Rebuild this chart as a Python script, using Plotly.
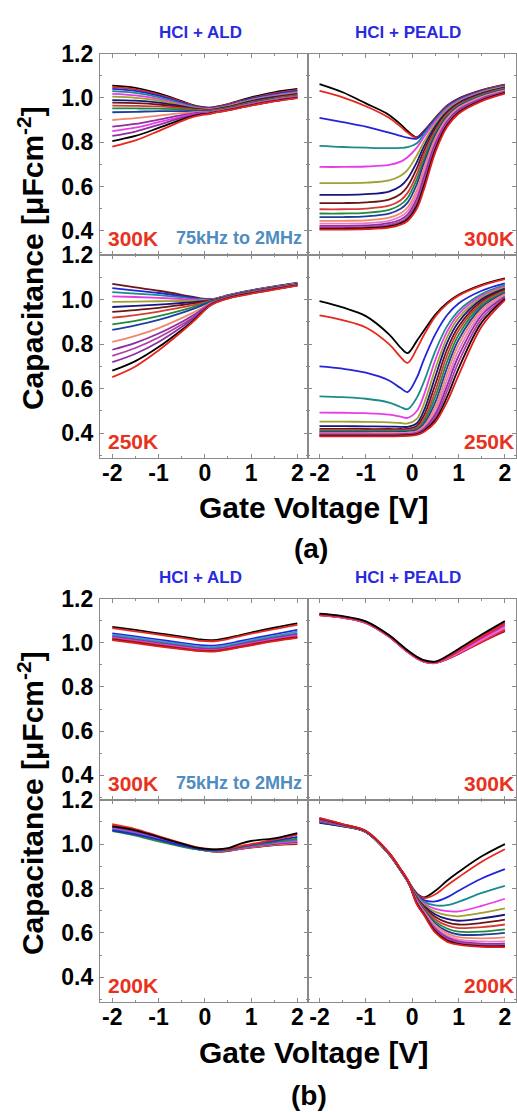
import plotly.graph_objects as go

FONT = "Liberation Sans, Arial, sans-serif"
W, H = 517, 1112

# Gate voltage sample points (V)
VG = [-2, -1.5, -1, -0.5, -0.25, -0.1, 0.1, 0.25, 0.5, 0.75, 1, 1.5, 2]

PAL = ["#000000", "#e8281e", "#2424d8", "#1a8c8c", "#e83ce8", "#a0a030", "#16167e", "#6a1616",
       "#d83a3a", "#1e8c3a", "#1e3ea0", "#f0886a", "#e87ac8", "#8e2ea0", "#b040a8", "#200808", "#e01e1e"]
ALD300_COL = ["#000000", "#e8281e", "#2424d8", "#1a8c8c", "#e83ce8", "#a0a030", "#16167e", "#6a1616",
              "#d83a3a", "#1e8c3a", "#1e3ea0", "#f0886a", "#8e2ea0", "#e83ce8", "#8e2ea0", "#000000", "#e8281e"]
ALD250_COL = ["#6a1616", "#2424d8", "#1a8c8c", "#e83ce8", "#a0a030", "#16167e", "#6a1616", "#d83a3a",
              "#1e8c3a", "#1e3ea0", "#f0886a", "#8e2ea0", "#b040a8", "#8e2ea0", "#000000", "#e8281e"]

# (a) 300K, HCl + ALD
A300_ALD = [
    [1.055, 1.045, 1.020, 0.985, 0.967, 0.960, 0.956, 0.960, 0.972, 0.988, 1.002, 1.025, 1.040],
    [1.048, 1.038, 1.015, 0.982, 0.965, 0.958, 0.955, 0.958, 0.970, 0.985, 0.998, 1.020, 1.036],
    [1.040, 1.031, 1.010, 0.978, 0.962, 0.956, 0.953, 0.956, 0.967, 0.982, 0.995, 1.016, 1.031],
    [1.030, 1.022, 1.003, 0.974, 0.960, 0.954, 0.951, 0.954, 0.965, 0.979, 0.992, 1.012, 1.027],
    [1.018, 1.011, 0.995, 0.970, 0.957, 0.952, 0.950, 0.953, 0.963, 0.977, 0.990, 1.010, 1.024],
    [1.005, 1.000, 0.988, 0.966, 0.955, 0.950, 0.948, 0.951, 0.961, 0.975, 0.988, 1.007, 1.021],
    [0.990, 0.987, 0.978, 0.962, 0.952, 0.948, 0.946, 0.949, 0.959, 0.972, 0.985, 1.004, 1.018],
    [0.978, 0.976, 0.970, 0.958, 0.950, 0.947, 0.945, 0.948, 0.957, 0.970, 0.982, 1.001, 1.015],
    [0.965, 0.964, 0.961, 0.953, 0.947, 0.945, 0.943, 0.946, 0.955, 0.967, 0.979, 0.998, 1.012],
    [0.952, 0.952, 0.951, 0.947, 0.944, 0.942, 0.941, 0.944, 0.953, 0.965, 0.977, 0.996, 1.010],
    [0.935, 0.937, 0.940, 0.940, 0.940, 0.940, 0.939, 0.942, 0.951, 0.963, 0.975, 0.994, 1.008],
    [0.900, 0.908, 0.920, 0.931, 0.935, 0.937, 0.937, 0.941, 0.949, 0.961, 0.973, 0.992, 1.006],
    [0.870, 0.882, 0.902, 0.922, 0.930, 0.933, 0.935, 0.939, 0.947, 0.959, 0.971, 0.990, 1.004],
    [0.850, 0.865, 0.890, 0.915, 0.926, 0.930, 0.933, 0.938, 0.946, 0.957, 0.969, 0.988, 1.002],
    [0.828, 0.848, 0.878, 0.909, 0.922, 0.927, 0.931, 0.937, 0.945, 0.956, 0.967, 0.986, 1.001],
    [0.805, 0.828, 0.864, 0.902, 0.918, 0.924, 0.929, 0.935, 0.944, 0.955, 0.966, 0.985, 1.000],
    [0.780, 0.808, 0.850, 0.895, 0.914, 0.921, 0.927, 0.934, 0.943, 0.954, 0.965, 0.984, 0.999],
]

# (a) 300K, HCl + PEALD
A300_PEALD = [
    [1.062, 1.025, 0.975, 0.923, 0.880, 0.850, 0.822, 0.850, 0.910, 0.965, 0.997, 1.035, 1.060],
    [1.031, 1.002, 0.962, 0.910, 0.870, 0.843, 0.820, 0.848, 0.908, 0.963, 0.995, 1.033, 1.058],
    [0.910, 0.890, 0.870, 0.843, 0.828, 0.820, 0.816, 0.845, 0.905, 0.960, 0.992, 1.030, 1.055],
    [0.783, 0.778, 0.775, 0.773, 0.774, 0.777, 0.795, 0.835, 0.900, 0.955, 0.989, 1.028, 1.053],
    [0.688, 0.688, 0.690, 0.697, 0.712, 0.732, 0.775, 0.822, 0.893, 0.950, 0.986, 1.026, 1.051],
    [0.615, 0.615, 0.617, 0.627, 0.648, 0.675, 0.740, 0.800, 0.882, 0.943, 0.981, 1.023, 1.049],
    [0.562, 0.562, 0.565, 0.577, 0.602, 0.635, 0.710, 0.780, 0.872, 0.937, 0.977, 1.020, 1.047],
    [0.525, 0.525, 0.528, 0.541, 0.566, 0.600, 0.682, 0.760, 0.861, 0.931, 0.973, 1.017, 1.045],
    [0.497, 0.497, 0.500, 0.513, 0.538, 0.571, 0.655, 0.740, 0.850, 0.925, 0.969, 1.014, 1.043],
    [0.478, 0.478, 0.481, 0.494, 0.518, 0.548, 0.632, 0.720, 0.840, 0.919, 0.965, 1.011, 1.040],
    [0.462, 0.462, 0.465, 0.477, 0.499, 0.527, 0.610, 0.702, 0.830, 0.913, 0.961, 1.008, 1.037],
    [0.445, 0.445, 0.447, 0.459, 0.479, 0.505, 0.585, 0.680, 0.818, 0.906, 0.956, 1.005, 1.034],
    [0.432, 0.432, 0.434, 0.445, 0.464, 0.488, 0.565, 0.660, 0.806, 0.899, 0.951, 1.001, 1.031],
    [0.422, 0.422, 0.424, 0.434, 0.451, 0.473, 0.545, 0.640, 0.794, 0.892, 0.946, 0.997, 1.028],
    [0.415, 0.415, 0.417, 0.426, 0.441, 0.461, 0.528, 0.620, 0.781, 0.884, 0.940, 0.993, 1.025],
    [0.410, 0.410, 0.412, 0.420, 0.434, 0.452, 0.513, 0.602, 0.768, 0.876, 0.934, 0.989, 1.022],
    [0.405, 0.405, 0.407, 0.414, 0.427, 0.444, 0.500, 0.585, 0.755, 0.868, 0.928, 0.985, 1.019],
]

# (a) 250K, HCl + ALD
A250_ALD = [
    [1.071, 1.055, 1.040, 1.022, 1.012, 1.006, 1.002, 1.006, 1.020, 1.032, 1.042, 1.060, 1.075],
    [1.052, 1.041, 1.030, 1.016, 1.008, 1.004, 1.001, 1.005, 1.019, 1.031, 1.041, 1.059, 1.074],
    [1.034, 1.027, 1.020, 1.010, 1.004, 1.002, 1.000, 1.004, 1.018, 1.030, 1.040, 1.058, 1.073],
    [1.015, 1.012, 1.008, 1.003, 1.000, 0.999, 0.999, 1.003, 1.017, 1.029, 1.039, 1.057, 1.072],
    [0.990, 0.991, 0.993, 0.994, 0.995, 0.996, 0.998, 1.002, 1.016, 1.028, 1.038, 1.056, 1.071],
    [0.967, 0.972, 0.978, 0.985, 0.989, 0.992, 0.997, 1.001, 1.015, 1.027, 1.037, 1.055, 1.070],
    [0.945, 0.953, 0.963, 0.976, 0.983, 0.988, 0.995, 1.000, 1.014, 1.026, 1.036, 1.054, 1.069],
    [0.919, 0.931, 0.946, 0.965, 0.976, 0.983, 0.993, 0.999, 1.013, 1.025, 1.035, 1.053, 1.068],
    [0.889, 0.905, 0.926, 0.952, 0.967, 0.977, 0.990, 0.998, 1.012, 1.024, 1.034, 1.052, 1.067],
    [0.864, 0.884, 0.909, 0.941, 0.959, 0.971, 0.988, 0.997, 1.011, 1.023, 1.033, 1.051, 1.066],
    [0.810, 0.837, 0.872, 0.917, 0.942, 0.958, 0.982, 0.994, 1.010, 1.022, 1.032, 1.050, 1.066],
    [0.775, 0.806, 0.848, 0.900, 0.930, 0.950, 0.978, 0.992, 1.009, 1.021, 1.031, 1.049, 1.065],
    [0.748, 0.783, 0.830, 0.888, 0.921, 0.943, 0.975, 0.991, 1.008, 1.020, 1.030, 1.048, 1.065],
    [0.719, 0.757, 0.810, 0.877, 0.915, 0.940, 0.974, 0.990, 1.007, 1.019, 1.029, 1.047, 1.064],
    [0.681, 0.724, 0.787, 0.864, 0.906, 0.935, 0.972, 0.989, 1.006, 1.018, 1.028, 1.046, 1.064],
    [0.652, 0.700, 0.772, 0.856, 0.901, 0.932, 0.971, 0.988, 1.005, 1.017, 1.027, 1.045, 1.063],
]

# (a) 250K, HCl + PEALD
A250_PEALD = [
    [0.993, 0.965, 0.926, 0.844, 0.785, 0.760, 0.815, 0.860, 0.933, 0.985, 1.022, 1.067, 1.096],
    [0.929, 0.908, 0.875, 0.800, 0.742, 0.716, 0.780, 0.840, 0.925, 0.980, 1.018, 1.063, 1.092],
    [0.700, 0.690, 0.672, 0.637, 0.603, 0.585, 0.650, 0.730, 0.845, 0.930, 0.983, 1.040, 1.073],
    [0.566, 0.562, 0.555, 0.538, 0.518, 0.508, 0.560, 0.630, 0.770, 0.880, 0.950, 1.025, 1.065],
    [0.493, 0.492, 0.490, 0.484, 0.475, 0.469, 0.500, 0.570, 0.730, 0.855, 0.935, 1.018, 1.060],
    [0.452, 0.452, 0.451, 0.449, 0.446, 0.444, 0.465, 0.530, 0.690, 0.830, 0.918, 1.010, 1.055],
    [0.432, 0.432, 0.431, 0.430, 0.429, 0.429, 0.445, 0.500, 0.655, 0.805, 0.900, 1.002, 1.050],
    [0.420, 0.420, 0.419, 0.419, 0.419, 0.420, 0.433, 0.478, 0.620, 0.775, 0.880, 0.993, 1.045],
    [0.414, 0.414, 0.413, 0.413, 0.413, 0.414, 0.425, 0.462, 0.590, 0.748, 0.862, 0.985, 1.040],
    [0.410, 0.410, 0.410, 0.410, 0.410, 0.411, 0.419, 0.450, 0.565, 0.720, 0.842, 0.976, 1.035],
    [0.405, 0.405, 0.405, 0.405, 0.406, 0.407, 0.414, 0.440, 0.540, 0.692, 0.820, 0.966, 1.030],
    [0.401, 0.401, 0.401, 0.402, 0.402, 0.403, 0.409, 0.432, 0.518, 0.665, 0.797, 0.955, 1.025],
    [0.398, 0.398, 0.398, 0.398, 0.399, 0.400, 0.405, 0.425, 0.500, 0.638, 0.772, 0.943, 1.019],
    [0.395, 0.395, 0.395, 0.395, 0.396, 0.397, 0.402, 0.419, 0.485, 0.612, 0.747, 0.930, 1.013],
    [0.392, 0.392, 0.392, 0.392, 0.393, 0.394, 0.399, 0.414, 0.472, 0.588, 0.720, 0.915, 1.008],
    [0.389, 0.389, 0.389, 0.389, 0.390, 0.391, 0.396, 0.410, 0.460, 0.562, 0.690, 0.898, 1.003],
    [0.386, 0.386, 0.386, 0.386, 0.387, 0.388, 0.393, 0.406, 0.450, 0.540, 0.660, 0.880, 0.998],
]

# (b) 300K, HCl + ALD
B300_ALD = [
    [1.072, 1.058, 1.043, 1.028, 1.020, 1.015, 1.012, 1.013, 1.022, 1.034, 1.046, 1.068, 1.088],
    [1.066, 1.052, 1.037, 1.022, 1.014, 1.009, 1.007, 1.008, 1.017, 1.029, 1.041, 1.062, 1.081],
    [1.043, 1.029, 1.014, 1.000, 0.993, 0.989, 0.987, 0.988, 0.996, 1.007, 1.018, 1.038, 1.058],
    [1.037, 1.023, 1.008, 0.994, 0.987, 0.983, 0.981, 0.982, 0.990, 1.001, 1.012, 1.031, 1.050],
    [1.031, 1.017, 1.002, 0.988, 0.981, 0.977, 0.975, 0.976, 0.984, 0.995, 1.006, 1.025, 1.043],
    [1.027, 1.013, 0.998, 0.984, 0.977, 0.973, 0.971, 0.972, 0.980, 0.991, 1.002, 1.020, 1.038],
    [1.023, 1.009, 0.994, 0.980, 0.973, 0.969, 0.967, 0.968, 0.976, 0.987, 0.997, 1.016, 1.033],
    [1.019, 1.005, 0.990, 0.976, 0.969, 0.966, 0.964, 0.965, 0.973, 0.983, 0.993, 1.012, 1.028],
    [1.016, 1.002, 0.987, 0.974, 0.967, 0.964, 0.962, 0.963, 0.971, 0.981, 0.991, 1.010, 1.025],
    [1.012, 0.998, 0.984, 0.971, 0.965, 0.962, 0.960, 0.961, 0.969, 0.979, 0.988, 1.007, 1.022],
]
B300_ALD_COL = ["#000000", "#e8281e", "#2424d8", "#4a90d8", "#1a8c8c", "#8e2ea0", "#e83ce8",
                "#d83a3a", "#6a1616", "#e01e1e"]

# (b) 300K, HCl + PEALD
B300_PEALD = [
    [1.125, 1.114, 1.090, 1.028, 0.985, 0.959, 0.930, 0.915, 0.909, 0.926, 0.950, 1.005, 1.053],
    [1.124, 1.113, 1.089, 1.027, 0.984, 0.958, 0.929, 0.914, 0.908, 0.925, 0.949, 1.003, 1.056],
    [1.125, 1.114, 1.090, 1.028, 0.985, 0.959, 0.930, 0.915, 0.909, 0.927, 0.952, 1.008, 1.062],
    [1.126, 1.115, 1.091, 1.029, 0.986, 0.960, 0.931, 0.916, 0.910, 0.929, 0.955, 1.013, 1.069],
    [1.127, 1.116, 1.092, 1.030, 0.987, 0.961, 0.932, 0.917, 0.911, 0.931, 0.958, 1.018, 1.076],
    [1.128, 1.117, 1.093, 1.031, 0.988, 0.962, 0.933, 0.918, 0.912, 0.933, 0.962, 1.024, 1.083],
    [1.130, 1.119, 1.095, 1.033, 0.990, 0.964, 0.935, 0.919, 0.913, 0.936, 0.966, 1.030, 1.090],
    [1.132, 1.121, 1.097, 1.035, 0.992, 0.966, 0.937, 0.921, 0.915, 0.940, 0.972, 1.037, 1.098],
]
B300_PEALD_COL = ["#200808", "#e01e1e", "#e0307a", "#e87ac8", "#e83ce8", "#c02060", "#e8281e", "#000000"]

# (b) 200K, HCl + ALD
B200_ALD = [
    [1.085, 1.063, 1.032, 0.999, 0.984, 0.976, 0.969, 0.966, 0.969, 0.977, 0.984, 0.995, 1.000],
    [1.078, 1.056, 1.028, 0.997, 0.982, 0.975, 0.968, 0.966, 0.970, 0.978, 0.985, 0.996, 1.003],
    [1.082, 1.060, 1.030, 0.998, 0.983, 0.976, 0.970, 0.968, 0.972, 0.979, 0.986, 0.998, 1.006],
    [1.075, 1.054, 1.026, 0.996, 0.982, 0.975, 0.969, 0.968, 0.972, 0.980, 0.988, 1.000, 1.010],
    [1.070, 1.050, 1.023, 0.994, 0.981, 0.975, 0.970, 0.969, 0.974, 0.982, 0.990, 1.004, 1.015],
    [1.066, 1.046, 1.020, 0.992, 0.980, 0.975, 0.971, 0.970, 0.975, 0.984, 0.993, 1.008, 1.020],
    [1.058, 1.038, 1.012, 0.989, 0.979, 0.974, 0.971, 0.971, 0.976, 0.985, 0.995, 1.010, 1.025],
    [1.062, 1.044, 1.020, 0.994, 0.983, 0.978, 0.974, 0.973, 0.978, 0.988, 0.998, 1.015, 1.033],
    [1.090, 1.068, 1.036, 1.004, 0.990, 0.983, 0.978, 0.976, 0.979, 0.990, 1.000, 1.020, 1.043],
    [1.080, 1.062, 1.032, 1.002, 0.988, 0.982, 0.977, 0.976, 0.982, 1.000, 1.014, 1.026, 1.050],
]
B200_ALD_COL = ["#e01e1e", "#6a1616", "#f0886a", "#8e2ea0", "#e83ce8", "#1a8c8c", "#1e8c3a",
                "#2424d8", "#e8281e", "#000000"]

# (b) 200K, HCl + PEALD
B200_PEALD = [
    [1.115, 1.088, 1.058, 0.958, 0.885, 0.838, 0.778, 0.760, 0.790, 0.835, 0.874, 0.945, 1.000],
    [1.110, 1.086, 1.057, 0.957, 0.884, 0.837, 0.776, 0.757, 0.774, 0.814, 0.851, 0.921, 0.977],
    [1.106, 1.084, 1.056, 0.956, 0.883, 0.836, 0.772, 0.748, 0.742, 0.760, 0.790, 0.845, 0.887],
    [1.100, 1.082, 1.055, 0.955, 0.882, 0.835, 0.768, 0.740, 0.724, 0.725, 0.740, 0.780, 0.812],
    [1.098, 1.081, 1.055, 0.955, 0.881, 0.834, 0.765, 0.733, 0.708, 0.698, 0.697, 0.722, 0.754],
    [1.097, 1.080, 1.054, 0.954, 0.880, 0.833, 0.762, 0.727, 0.695, 0.680, 0.675, 0.690, 0.711],
    [1.096, 1.080, 1.054, 0.954, 0.880, 0.832, 0.759, 0.722, 0.683, 0.663, 0.655, 0.666, 0.682],
    [1.104, 1.083, 1.055, 0.955, 0.881, 0.833, 0.756, 0.717, 0.672, 0.648, 0.638, 0.645, 0.660],
    [1.108, 1.085, 1.056, 0.956, 0.882, 0.834, 0.753, 0.712, 0.661, 0.634, 0.622, 0.626, 0.638],
    [1.100, 1.082, 1.055, 0.956, 0.882, 0.834, 0.750, 0.707, 0.651, 0.620, 0.606, 0.606, 0.616],
    [1.102, 1.083, 1.056, 0.957, 0.883, 0.835, 0.747, 0.703, 0.642, 0.608, 0.593, 0.592, 0.600],
    [1.109, 1.086, 1.057, 0.958, 0.884, 0.836, 0.744, 0.699, 0.634, 0.598, 0.581, 0.576, 0.580],
    [1.105, 1.084, 1.056, 0.958, 0.884, 0.836, 0.741, 0.695, 0.626, 0.588, 0.570, 0.562, 0.562],
    [1.107, 1.085, 1.057, 0.959, 0.885, 0.837, 0.738, 0.691, 0.619, 0.580, 0.562, 0.552, 0.552],
    [1.111, 1.087, 1.058, 0.960, 0.886, 0.838, 0.735, 0.688, 0.613, 0.573, 0.556, 0.546, 0.545],
    [1.116, 1.089, 1.059, 0.961, 0.887, 0.839, 0.732, 0.685, 0.607, 0.567, 0.551, 0.541, 0.540],
    [1.118, 1.090, 1.060, 0.962, 0.888, 0.840, 0.729, 0.682, 0.601, 0.561, 0.547, 0.537, 0.536],
]

X_TICKS = [-2, -1, 0, 1, 2]
X_TICKTEXT = ["-2", "-1", "0", "1", "2"]
Y_TICKS = [0.4, 0.6, 0.8, 1.0, 1.2]
Y_TICKTEXT = ["0.4", "0.6", "0.8", "1.0", "1.2"]


def px_x(p):
    return p / W


def px_y(p):
    return 1 - p / H


# panel layout: (data, colors, x-domain px, y-domain px (top, bottom), x range, x labels, y labels)
LX = (100, 309)
RX = (309, 517)
panels = [
    (A300_ALD, ALD300_COL, LX, (41, 245), [-2.27, 2.24], False, True),
    (A300_PEALD, PAL, RX, (41, 245), [-2.24, 2.24], False, False),
    (A250_ALD, ALD250_COL, LX, (245, 450), [-2.27, 2.24], True, True),
    (A250_PEALD, PAL, RX, (245, 450), [-2.24, 2.24], True, False),
    (B300_ALD, B300_ALD_COL, LX, (592.5, 796), [-2.27, 2.24], False, True),
    (B300_PEALD, B300_PEALD_COL, RX, (592.5, 796), [-2.24, 2.24], False, False),
    (B200_ALD, B200_ALD_COL, LX, (796, 1000.5), [-2.27, 2.24], True, True),
    (B200_PEALD, PAL, RX, (796, 1000.5), [-2.24, 2.24], True, False),
]

fig = go.Figure()
layout = {}
tickfont = dict(family=FONT, size=23, color="black", weight="bold")
AX_COL = "#8a8a8a"

for i, (data, cols, xd, yd, xr, showx, showy) in enumerate(panels, start=1):
    xa = "x" if i == 1 else f"x{i}"
    ya = "y" if i == 1 else f"y{i}"
    for j, ys in enumerate(data):
        fig.add_trace(go.Scatter(x=VG, y=ys, mode="lines", xaxis=xa, yaxis=ya,
                                 line=dict(color=cols[j % len(cols)], width=1.8, shape="spline", smoothing=1.0),
                                 showlegend=False, hoverinfo="skip"))
    layout["xaxis" if i == 1 else f"xaxis{i}"] = dict(
        domain=[px_x(xd[0]), min(1.0, px_x(xd[1]))], range=xr, anchor=ya,
        tickmode="array", tickvals=X_TICKS, ticktext=X_TICKTEXT,
        ticks="inside", ticklen=4, tickwidth=1, tickcolor=AX_COL,
        showline=True, linecolor=AX_COL, linewidth=1, mirror="ticks",
        showgrid=False, zeroline=False, showticklabels=showx, tickfont=tickfont,
        ticklabelstandoff=-5,
        minor=dict(tickmode="array", tickvals=[-1.5, -0.5, 0.5, 1.5], ticks="inside",
                   ticklen=2, tickcolor=AX_COL, showgrid=False),
    )
    layout["yaxis" if i == 1 else f"yaxis{i}"] = dict(
        domain=[px_y(yd[1]), px_y(yd[0])], range=[0.29, 1.2], anchor=xa,
        tickmode="array", tickvals=Y_TICKS, ticktext=Y_TICKTEXT,
        ticks="inside", ticklen=4, tickwidth=1, tickcolor=AX_COL,
        showline=True, linecolor=AX_COL, linewidth=1, mirror="ticks",
        showgrid=False, zeroline=False, showticklabels=showy, tickfont=tickfont,
        ticklabelstandoff=1,
        minor=dict(tickmode="array", tickvals=[0.3, 0.5, 0.7, 0.9, 1.1], ticks="inside",
                   ticklen=2, tickcolor=AX_COL, showgrid=False),
    )

RED = "#e8321e"
BLUE = "#2a2ae0"
STEEL = "#4f8cc0"


def ann(text, x, y, size, color="black", xanchor="center", angle=0):
    return dict(text=text, x=px_x(x), y=px_y(y), xref="paper", yref="paper",
                xanchor=xanchor, yanchor="middle", showarrow=False, textangle=angle,
                font=dict(family=FONT, size=size, color=color, weight="bold"))


annotations = []
for off in (0, 551.5):
    annotations += [
        ann("HCl + ALD", 201, 20 + off, 17, BLUE),
        ann("HCl + PEALD", 409, 20 + off, 17, BLUE),
        ann("Capacitance [μFcm<sup>-2</sup>]", 31, 248 + off, 30, "black", angle=-90),
        ann("Gate Voltage [V]", 314, 500 + off, 30),
        ann("300K", 106, 228 + off, 21, RED, xanchor="left"),
        ann("75kHz to 2MHz", 239, 228 + off, 18, STEEL),
        ann("300K", 517, 228 + off, 21, RED, xanchor="right"),
    ]
annotations += [
    ann("250K", 106, 434, 21, RED, xanchor="left"),
    ann("250K", 517, 434, 21, RED, xanchor="right"),
    ann("(a)", 312, 542, 28),
    ann("200K", 106, 984, 21, RED, xanchor="left"),
    ann("200K", 517, 984, 21, RED, xanchor="right"),
    ann("(b)", 310, 1095, 28),
]

fig.update_layout(
    width=W, height=H, margin=dict(l=0, r=0, t=0, b=0),
    paper_bgcolor="white", plot_bgcolor="white",
    showlegend=False, annotations=annotations, **layout,
)

fig.write_html(
    "out.html",
    config={"displayModeBar": False},
    post_script="document.body.style.margin='0';document.body.style.padding='0';"
                "document.documentElement.style.overflow='hidden';document.body.style.overflow='hidden';",
)
